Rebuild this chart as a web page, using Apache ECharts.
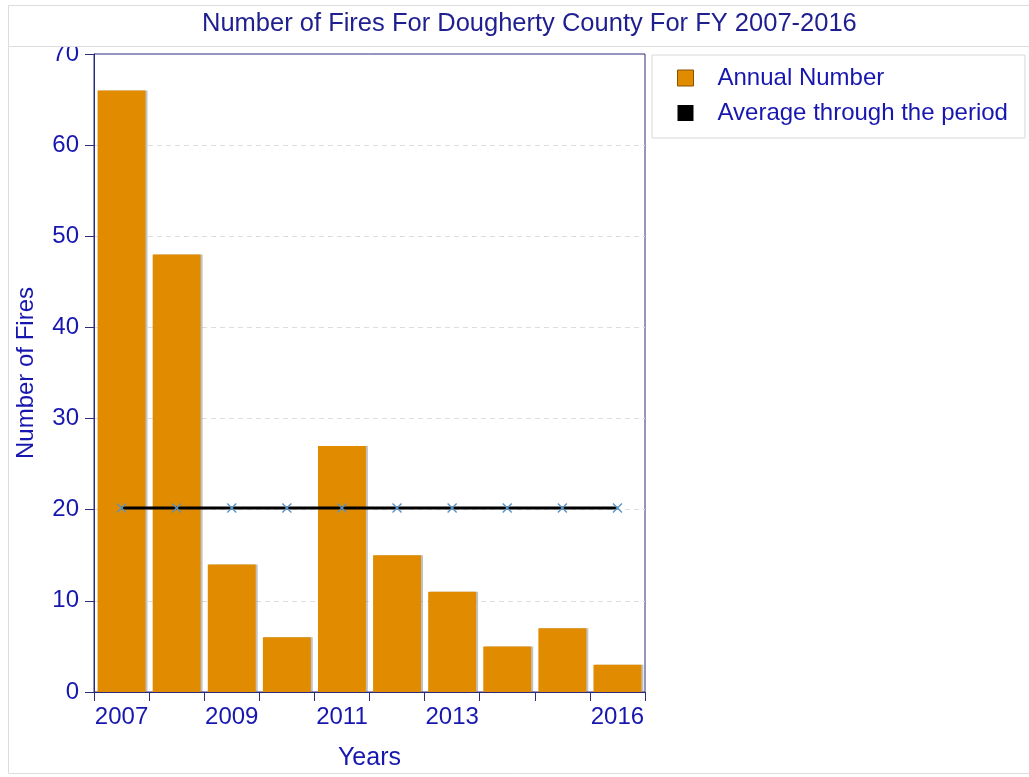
<!DOCTYPE html>
<html>
<head>
<meta charset="utf-8">
<script src="https://cdn.jsdelivr.net/npm/echarts@6/dist/echarts.min.js"></script>
<style>
  html, body { margin: 0; padding: 0; background: #fff; }
  #main { width: 1029px; height: 777px; }
</style>
</head>
<body>
<div id="main"></div>
<script>
// values
const years = ['2007', '2008', '2009', '2010', '2011', '2012', '2013', '2014', '2015', '2016'];
const tickLabels = ['2007', '', '2009', '', '2011', '', '2013', '', '', '2016'];
const annualNumber = [66, 48, 14, 6, 27, 15, 11, 5, 7, 3];
const averageValue = [20.2, 20.2, 20.2, 20.2, 20.2, 20.2, 20.2, 20.2, 20.2, 20.2];

const font = '"Liberation Sans", Arial, sans-serif';
const navy = '#2b2b7a';
const blue = '#1717b0';
const gridGray = '#dddddd';

// X shaped marker used by SAS for line points
const crossPath = 'path://M0,1L1,0L5,4L9,0L10,1L6,5L10,9L9,10L5,6L1,10L0,9L4,5Z';

const chart = echarts.init(document.getElementById('main'));

chart.setOption({
    animation: false,
    backgroundColor: '#fff',
    textStyle: { fontFamily: font },
    graphic: [
        { type: 'rect', shape: { x: 8.5, y: 5.5, width: 1030, height: 768 },
          style: { fill: 'none', stroke: '#dcdcdc', lineWidth: 1 }, z: -1 },
        // title band sits over the top of the "70" label, as in the original
        { type: 'rect', shape: { x: 8.5, y: 5.5, width: 1030, height: 41 },
          style: { fill: '#fff', stroke: '#dcdcdc', lineWidth: 1 }, z: 100 }
    ],
    title: {
        text: 'Number of Fires For Dougherty County For FY 2007-2016',
        left: 197,
        top: 6,
        z: 200,
        textStyle: { fontFamily: font, fontSize: 25.5, fontWeight: 'normal', color: '#1f1f8f' }
    },
    legend: {
        orient: 'vertical',
        left: 652,
        top: 55,
        padding: [11, 17, 13, 25],
        itemGap: 11,
        itemWidth: 16,
        itemHeight: 16,
        borderColor: '#d8d8d8',
        borderWidth: 1,
        textStyle: { fontFamily: font, fontSize: 24, color: blue, padding: [0, 0, 0, 19] },
        data: [
            { name: 'Annual Number', icon: 'rect',
              itemStyle: { color: '#e08b00', borderColor: '#8a5200', borderWidth: 1 } },
            { name: 'Average through the period', icon: 'rect',
              itemStyle: { color: '#000', borderWidth: 0 } }
        ]
    },
    grid: {
        left: 94,
        right: 384,
        top: 54,
        bottom: 85,
        show: true,
        borderColor: navy,
        borderWidth: 1,
        containLabel: false,
        outerBoundsMode: 'none'
    },
    xAxis: {
        type: 'category',
        data: years,
        boundaryGap: true,
        name: 'Years',
        nameLocation: 'middle',
        nameGap: 54,
        nameTextStyle: { fontFamily: font, fontSize: 25, color: blue },
        axisLine: { lineStyle: { color: navy, width: 1 } },
        axisTick: { show: true, interval: 0, length: 9, lineStyle: { color: navy } },
        axisLabel: {
            interval: 0,
            margin: 13,
            fontFamily: font,
            fontSize: 24,
            color: blue,
            formatter: function (v, i) { return tickLabels[i]; }
        },
        splitLine: { show: false }
    },
    yAxis: {
        type: 'value',
        min: 0,
        max: 70,
        interval: 10,
        name: 'Number of Fires',
        nameLocation: 'middle',
        nameGap: 56,
        nameRotate: 90,
        nameTextStyle: { fontFamily: font, fontSize: 24, color: blue },
        axisLine: { show: true, lineStyle: { color: navy, width: 1 } },
        axisTick: { show: true, length: 9, lineStyle: { color: navy } },
        axisLabel: { margin: 15, fontFamily: font, fontSize: 24, color: blue },
        splitLine: {
            show: true,
            lineStyle: {
                color: [gridGray, gridGray, gridGray, gridGray, gridGray, gridGray, gridGray, 'rgba(0,0,0,0)'],
                type: [5, 4],
                width: 1
            }
        }
    },
    series: [
        {
            name: 'Annual Number',
            type: 'bar',
            data: annualNumber,
            barCategoryGap: '13%',
            itemStyle: {
                color: '#e08b00',
                shadowColor: 'rgba(120,120,120,0.45)',
                shadowOffsetX: 2,
                shadowOffsetY: 0,
                shadowBlur: 0
            }
        },
        {
            name: 'Average through the period',
            type: 'line',
            data: averageValue,
            symbol: crossPath,
            symbolSize: 10,
            showAllSymbol: true,
            z: 5,
            lineStyle: { color: '#000', width: 3 },
            itemStyle: { color: '#5b93c3' },
            emphasis: { disabled: true }
        }
    ]
});
</script>
</body>
</html>
